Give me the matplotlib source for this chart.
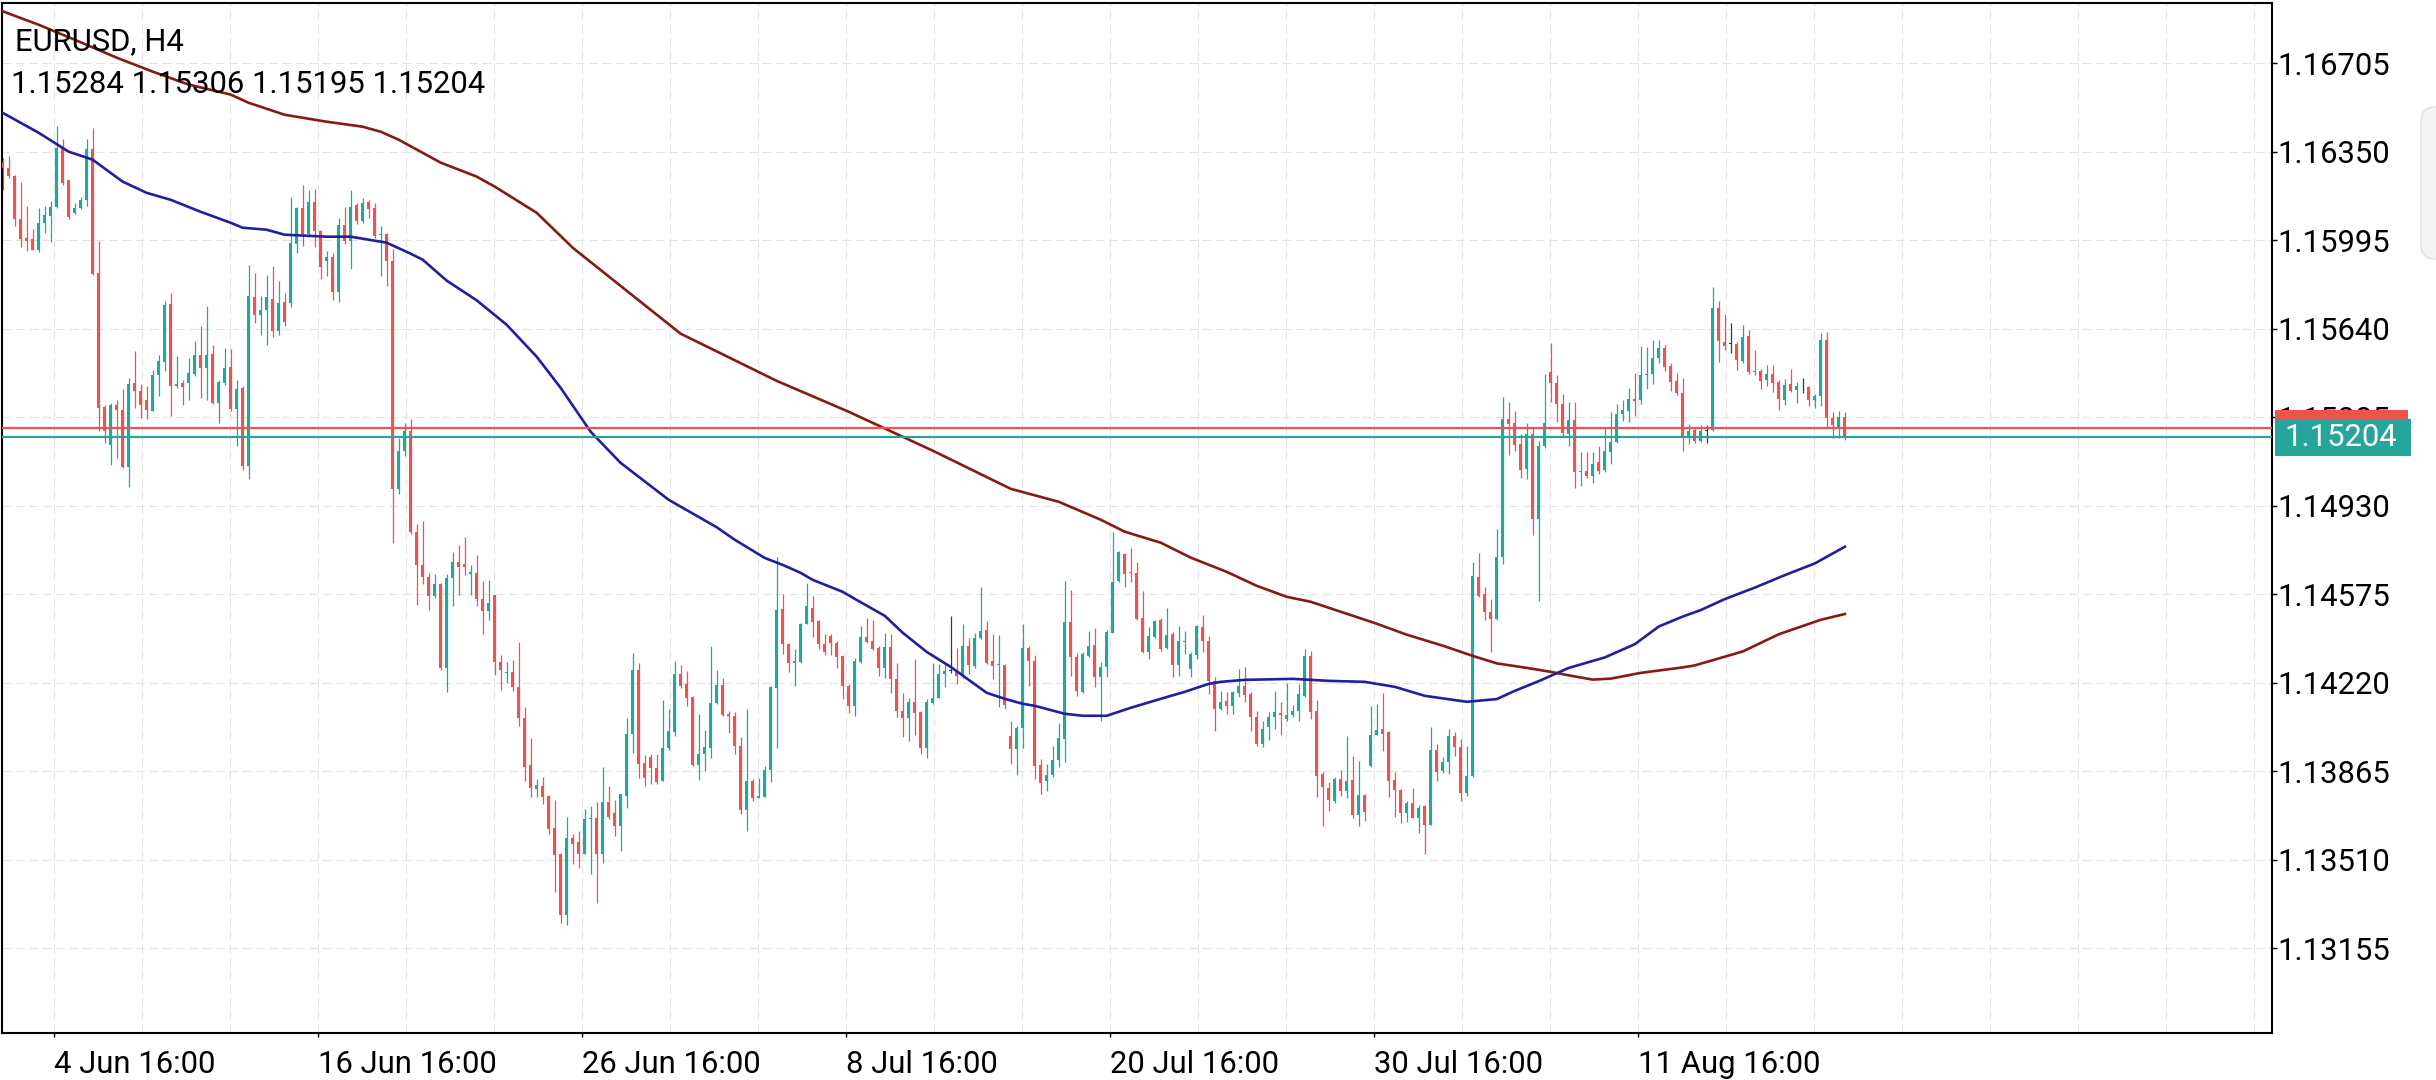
import numpy as np
import matplotlib.pyplot as plt
from matplotlib.patches import Rectangle, FancyBboxPatch
from matplotlib.transforms import blended_transform_factory, IdentityTransform

plt.rcParams['font.family'] = ['Roboto', 'DejaVu Sans']

symbol = "EURUSD, H4"
bid = 1.15204
ask = 1.15241

# H4 candles, oldest first
opens = [
    1.16308, 1.16285, 1.16254, 1.16078, 1.16004, 1.16000, 1.15957, 1.16064, 1.16091, 1.16129,
    1.16359, 1.16236, 1.16102, 1.16125, 1.16155, 1.16361, 1.15864, 1.15325, 1.15175, 1.15336,
    1.15316, 1.15086, 1.15423, 1.15392, 1.15356, 1.15309, 1.15453, 1.15507, 1.15741, 1.15409,
    1.15422, 1.15423, 1.15460, 1.15536, 1.15483, 1.15540, 1.15342, 1.15423, 1.15485, 1.15318,
    1.15402, 1.15088, 1.15768, 1.15693, 1.15717, 1.15760, 1.15629, 1.15748, 1.15744, 1.15981,
    1.16124, 1.16021, 1.16149, 1.16031, 1.15910, 1.15926, 1.15788, 1.16057, 1.15991, 1.16136,
    1.16070, 1.16149, 1.16124, 1.16015, 1.16021, 1.15912, 1.14996, 1.15151, 1.15230, 1.14824,
    1.14692, 1.14646, 1.14567, 1.14617, 1.14281, 1.14640, 1.14706, 1.14696, 1.14656, 1.14660,
    1.14557, 1.14508, 1.14573, 1.14304, 1.14261, 1.14265, 1.14205, 1.14079, 1.13890, 1.13793,
    1.13806, 1.13766, 1.13636, 1.13532, 1.13291, 1.13599, 1.13582, 1.13535, 1.13673, 1.13679,
    1.13535, 1.13743, 1.13699, 1.13646, 1.13766, 1.14016, 1.14270, 1.13900, 1.13923, 1.13877,
    1.13826, 1.13957, 1.14024, 1.14257, 1.14217, 1.14163, 1.13890, 1.13936, 1.13960, 1.14140,
    1.14211, 1.14096, 1.14087, 1.13967, 1.13709, 1.13826, 1.13759, 1.13762, 1.13869, 1.14201,
    1.14515, 1.14374, 1.14301, 1.14305, 1.14457, 1.14521, 1.14470, 1.14374, 1.14408, 1.14381,
    1.14327, 1.14207, 1.14127, 1.14305, 1.14404, 1.14388, 1.14358, 1.14278, 1.14363, 1.14234,
    1.14107, 1.14080, 1.14144, 1.14104, 1.13960, 1.14140, 1.14160, 1.14254, 1.14267, 1.14265,
    1.14247, 1.14367, 1.14287, 1.14398, 1.14430, 1.14307, 1.14290, 1.14291, 1.14006, 1.13953,
    1.14037, 1.14361, 1.14307, 1.13890, 1.13826, 1.13850, 1.13909, 1.13995, 1.14463, 1.14323,
    1.14182, 1.14329, 1.14373, 1.14242, 1.14282, 1.14419, 1.14627, 1.14737, 1.14664, 1.14660,
    1.14480, 1.14343, 1.14403, 1.14472, 1.14360, 1.14416, 1.14293, 1.14383, 1.14276, 1.14333,
    1.14443, 1.14389, 1.14229, 1.14115, 1.14146, 1.14129, 1.14178, 1.14209, 1.14176, 1.14082,
    1.13975, 1.14042, 1.14082, 1.14098, 1.14075, 1.14093, 1.14106, 1.14169, 1.14329, 1.14106,
    1.13855, 1.13799, 1.13746, 1.13836, 1.13788, 1.13829, 1.13691, 1.13771, 1.13885, 1.14012,
    1.14034, 1.14023, 1.13829, 1.13790, 1.13697, 1.13739, 1.13677, 1.13725, 1.13652, 1.13951,
    1.13868, 1.13901, 1.14007, 1.13961, 1.13777, 1.13846, 1.14645, 1.14575, 1.14506, 1.14478,
    1.14724, 1.15278, 1.15260, 1.15177, 1.15077, 1.15216, 1.14876, 1.15168, 1.15466, 1.15421,
    1.15338, 1.15219, 1.15274, 1.15064, 1.15070, 1.15050, 1.15106, 1.15073, 1.15146, 1.15186,
    1.15297, 1.15311, 1.15360, 1.15353, 1.15454, 1.15458, 1.15521, 1.15561, 1.15490, 1.15431,
    1.15383, 1.15204, 1.15233, 1.15190, 1.15231, 1.15233, 1.15725, 1.15587, 1.15580, 1.15578,
    1.15511, 1.15610, 1.15471, 1.15471, 1.15436, 1.15458, 1.15427, 1.15356, 1.15418, 1.15394,
    1.15405, 1.15407, 1.15356, 1.15369, 1.15594, 1.15280, 1.15246, 1.15284]

highs = [
    1.16325, 1.16332, 1.16258, 1.16228, 1.16131, 1.16038, 1.16125, 1.16131, 1.16151, 1.16452,
    1.16399, 1.16238, 1.16145, 1.16169, 1.16399, 1.16443, 1.15991, 1.15336, 1.15342, 1.15356,
    1.15399, 1.15443, 1.15550, 1.15420, 1.15409, 1.15476, 1.15536, 1.15750, 1.15784, 1.15532,
    1.15436, 1.15523, 1.15590, 1.15650, 1.15733, 1.15576, 1.15433, 1.15563, 1.15559, 1.15436,
    1.15409, 1.15897, 1.15864, 1.15770, 1.15857, 1.15892, 1.15833, 1.15784, 1.16169, 1.16130,
    1.16215, 1.16195, 1.16199, 1.16037, 1.15952, 1.15942, 1.16084, 1.16130, 1.16195, 1.16144,
    1.16163, 1.16155, 1.16144, 1.16051, 1.16025, 1.15958, 1.15200, 1.15260, 1.15279, 1.14858,
    1.14870, 1.14660, 1.14656, 1.14621, 1.14656, 1.14745, 1.14771, 1.14805, 1.14692, 1.14731,
    1.14627, 1.14633, 1.14573, 1.14330, 1.14304, 1.14310, 1.14383, 1.14122, 1.14000, 1.13833,
    1.13842, 1.13770, 1.13749, 1.13539, 1.13682, 1.13612, 1.13626, 1.13713, 1.13726, 1.13743,
    1.13882, 1.13806, 1.13749, 1.13776, 1.14080, 1.14341, 1.14301, 1.13931, 1.13933, 1.13933,
    1.14150, 1.14114, 1.14308, 1.14292, 1.14268, 1.14167, 1.14094, 1.14030, 1.14368, 1.14270,
    1.14238, 1.14107, 1.14104, 1.14003, 1.14114, 1.13833, 1.13837, 1.13886, 1.14207, 1.14725,
    1.14578, 1.14381, 1.14354, 1.14461, 1.14622, 1.14568, 1.14474, 1.14417, 1.14414, 1.14388,
    1.14331, 1.14214, 1.14321, 1.14448, 1.14481, 1.14474, 1.14367, 1.14421, 1.14414, 1.14301,
    1.14180, 1.14160, 1.14314, 1.14107, 1.14154, 1.14301, 1.14294, 1.14301, 1.14488, 1.14358,
    1.14457, 1.14401, 1.14421, 1.14604, 1.14470, 1.14414, 1.14412, 1.14297, 1.14069, 1.14047,
    1.14454, 1.14367, 1.14331, 1.13913, 1.13893, 1.13966, 1.14060, 1.14630, 1.14593, 1.14339,
    1.14343, 1.14427, 1.14440, 1.14302, 1.14430, 1.14824, 1.14748, 1.14740, 1.14761, 1.14704,
    1.14590, 1.14443, 1.14472, 1.14480, 1.14520, 1.14423, 1.14446, 1.14427, 1.14343, 1.14450,
    1.14494, 1.14406, 1.14242, 1.14189, 1.14182, 1.14186, 1.14276, 1.14285, 1.14182, 1.14109,
    1.14068, 1.14102, 1.14186, 1.14142, 1.14218, 1.14133, 1.14216, 1.14356, 1.14349, 1.14151,
    1.13861, 1.13822, 1.13843, 1.13871, 1.14007, 1.13926, 1.13906, 1.13774, 1.14127, 1.14137,
    1.14179, 1.14026, 1.13864, 1.13793, 1.13746, 1.13799, 1.13729, 1.13732, 1.14044, 1.13975,
    1.13924, 1.14035, 1.14023, 1.13996, 1.13968, 1.14706, 1.14742, 1.14606, 1.14557, 1.14835,
    1.15366, 1.15348, 1.15310, 1.15216, 1.15260, 1.15244, 1.15188, 1.15459, 1.15584, 1.15455,
    1.15380, 1.15348, 1.15348, 1.15144, 1.15144, 1.15144, 1.15169, 1.15240, 1.15307, 1.15337,
    1.15353, 1.15404, 1.15463, 1.15570, 1.15565, 1.15594, 1.15594, 1.15574, 1.15503, 1.15463,
    1.15444, 1.15257, 1.15240, 1.15253, 1.15253, 1.15808, 1.15752, 1.15698, 1.15664, 1.15587,
    1.15654, 1.15634, 1.15554, 1.15480, 1.15494, 1.15494, 1.15436, 1.15440, 1.15480, 1.15427,
    1.15444, 1.15410, 1.15380, 1.15624, 1.15628, 1.15307, 1.15311, 1.15306]

lows = [
    1.16198, 1.16245, 1.16051, 1.15968, 1.15951, 1.15955, 1.15947, 1.16022, 1.15987, 1.16125,
    1.16218, 1.16078, 1.16098, 1.16121, 1.16131, 1.15857, 1.15229, 1.15182, 1.15095, 1.15122,
    1.15082, 1.15005, 1.15322, 1.15282, 1.15276, 1.15309, 1.15369, 1.15469, 1.15289, 1.15403,
    1.15336, 1.15356, 1.15449, 1.15362, 1.15353, 1.15340, 1.15262, 1.15416, 1.15309, 1.15169,
    1.15075, 1.15037, 1.15663, 1.15616, 1.15576, 1.15606, 1.15615, 1.15649, 1.15728, 1.15942,
    1.15971, 1.16011, 1.15966, 1.15839, 1.15853, 1.15754, 1.15748, 1.15981, 1.15878, 1.16060,
    1.16064, 1.16084, 1.16005, 1.15853, 1.15813, 1.14779, 1.14977, 1.15131, 1.14818, 1.14534,
    1.14617, 1.14514, 1.14560, 1.14271, 1.14182, 1.14528, 1.14573, 1.14652, 1.14573, 1.14528,
    1.14415, 1.14474, 1.14251, 1.14192, 1.14221, 1.14186, 1.14047, 1.13826, 1.13762, 1.13762,
    1.13735, 1.13615, 1.13382, 1.13258, 1.13251, 1.13495, 1.13479, 1.13532, 1.13452, 1.13338,
    1.13499, 1.13673, 1.13606, 1.13546, 1.13719, 1.13940, 1.13837, 1.13806, 1.13816, 1.13816,
    1.13826, 1.13949, 1.14007, 1.14201, 1.14127, 1.13886, 1.13829, 1.13866, 1.13917, 1.14136,
    1.14087, 1.14020, 1.13933, 1.13695, 1.13626, 1.13746, 1.13757, 1.13762, 1.13824, 1.13957,
    1.14337, 1.14265, 1.14207, 1.14301, 1.14454, 1.14404, 1.14354, 1.14331, 1.14331, 1.14278,
    1.14154, 1.14100, 1.14087, 1.14301, 1.14381, 1.14350, 1.14247, 1.14238, 1.14180, 1.14083,
    1.14002, 1.13986, 1.14010, 1.13933, 1.13917, 1.14136, 1.14158, 1.14203, 1.14260, 1.14214,
    1.14241, 1.14256, 1.14281, 1.14394, 1.14297, 1.14234, 1.14123, 1.14117, 1.13893, 1.13850,
    1.13960, 1.14207, 1.13833, 1.13775, 1.13786, 1.13842, 1.13882, 1.13901, 1.14249, 1.14169,
    1.14178, 1.14325, 1.14202, 1.14068, 1.14242, 1.14419, 1.14623, 1.14603, 1.14623, 1.14472,
    1.14339, 1.14316, 1.14400, 1.14349, 1.14356, 1.14245, 1.14249, 1.14336, 1.14242, 1.14316,
    1.14343, 1.14176, 1.14028, 1.14111, 1.14095, 1.14095, 1.14162, 1.14142, 1.14028, 1.13968,
    1.13962, 1.13991, 1.14035, 1.14012, 1.14068, 1.14085, 1.14066, 1.14162, 1.14075, 1.13764,
    1.13647, 1.13707, 1.13739, 1.13767, 1.13760, 1.13677, 1.13646, 1.13666, 1.13882, 1.14009,
    1.13947, 1.13763, 1.13684, 1.13660, 1.13663, 1.13677, 1.13618, 1.13535, 1.13649, 1.13827,
    1.13860, 1.13854, 1.13926, 1.13746, 1.13767, 1.13843, 1.14564, 1.14474, 1.14342, 1.14474,
    1.14696, 1.15133, 1.15149, 1.15043, 1.15039, 1.14814, 1.14550, 1.15163, 1.15348, 1.15265,
    1.15209, 1.15168, 1.15001, 1.15008, 1.15043, 1.15022, 1.15059, 1.15066, 1.15097, 1.15182,
    1.15271, 1.15267, 1.15289, 1.15337, 1.15400, 1.15418, 1.15503, 1.15471, 1.15391, 1.15373,
    1.15150, 1.15177, 1.15182, 1.15186, 1.15180, 1.15230, 1.15507, 1.15554, 1.15541, 1.15476,
    1.15503, 1.15458, 1.15454, 1.15400, 1.15410, 1.15387, 1.15316, 1.15333, 1.15387, 1.15343,
    1.15383, 1.15329, 1.15324, 1.15329, 1.15246, 1.15200, 1.15200, 1.15195]

closes = [
    1.16285, 1.16252, 1.16080, 1.15998, 1.15991, 1.15957, 1.16064, 1.16094, 1.16129, 1.16365,
    1.16225, 1.16087, 1.16125, 1.16158, 1.16361, 1.15861, 1.15322, 1.15229, 1.15336, 1.15316,
    1.15086, 1.15420, 1.15389, 1.15336, 1.15316, 1.15456, 1.15509, 1.15737, 1.15409, 1.15420,
    1.15407, 1.15463, 1.15536, 1.15483, 1.15536, 1.15342, 1.15425, 1.15483, 1.15318, 1.15398,
    1.15088, 1.15773, 1.15693, 1.15717, 1.15768, 1.15629, 1.15744, 1.15665, 1.15985, 1.16124,
    1.16021, 1.16149, 1.16031, 1.15886, 1.15926, 1.15788, 1.16057, 1.15991, 1.16130, 1.16070,
    1.16144, 1.16120, 1.16011, 1.16021, 1.15912, 1.14996, 1.15151, 1.15230, 1.14824, 1.14692,
    1.14646, 1.14567, 1.14617, 1.14281, 1.14640, 1.14706, 1.14686, 1.14684, 1.14664, 1.14557,
    1.14508, 1.14542, 1.14304, 1.14271, 1.14265, 1.14205, 1.14079, 1.13881, 1.13797, 1.13810,
    1.13762, 1.13632, 1.13529, 1.13291, 1.13599, 1.13572, 1.13535, 1.13673, 1.13679, 1.13535,
    1.13743, 1.13682, 1.13646, 1.13773, 1.14016, 1.14270, 1.13896, 1.13837, 1.13877, 1.13824,
    1.13957, 1.14027, 1.14257, 1.14207, 1.14161, 1.13890, 1.13936, 1.13963, 1.14140, 1.14211,
    1.14091, 1.14087, 1.13967, 1.13709, 1.13826, 1.13759, 1.13766, 1.13869, 1.14203, 1.14511,
    1.14374, 1.14301, 1.14308, 1.14457, 1.14528, 1.14465, 1.14374, 1.14345, 1.14381, 1.14323,
    1.14207, 1.14127, 1.14307, 1.14404, 1.14385, 1.14354, 1.14278, 1.14363, 1.14234, 1.14107,
    1.14080, 1.14144, 1.14100, 1.13960, 1.14144, 1.14158, 1.14254, 1.14267, 1.14267, 1.14247,
    1.14367, 1.14291, 1.14401, 1.14428, 1.14301, 1.14287, 1.14294, 1.14133, 1.13953, 1.14040,
    1.14361, 1.14307, 1.13886, 1.13819, 1.13850, 1.13909, 1.13997, 1.14463, 1.14323, 1.14189,
    1.14336, 1.14369, 1.14242, 1.14285, 1.14423, 1.14623, 1.14744, 1.14657, 1.14660, 1.14476,
    1.14343, 1.14409, 1.14470, 1.14356, 1.14413, 1.14293, 1.14387, 1.14387, 1.14336, 1.14446,
    1.14389, 1.14229, 1.14115, 1.14142, 1.14129, 1.14182, 1.14209, 1.14173, 1.14082, 1.13975,
    1.14035, 1.14085, 1.14102, 1.14093, 1.14093, 1.14106, 1.14176, 1.14329, 1.14102, 1.13848,
    1.13801, 1.13749, 1.13836, 1.13788, 1.13827, 1.13691, 1.13771, 1.13702, 1.14012, 1.14030,
    1.14016, 1.13827, 1.13790, 1.13697, 1.13739, 1.13680, 1.13718, 1.13652, 1.13951, 1.13864,
    1.13901, 1.14007, 1.13961, 1.13777, 1.13846, 1.14647, 1.14567, 1.14506, 1.14478, 1.14724,
    1.15278, 1.15258, 1.15174, 1.15075, 1.15216, 1.14876, 1.15168, 1.15260, 1.15421, 1.15338,
    1.15223, 1.15274, 1.15064, 1.15070, 1.15050, 1.15098, 1.15070, 1.15150, 1.15186, 1.15300,
    1.15313, 1.15360, 1.15351, 1.15454, 1.15458, 1.15521, 1.15561, 1.15487, 1.15427, 1.15383,
    1.15204, 1.15230, 1.15190, 1.15230, 1.15231, 1.15725, 1.15591, 1.15570, 1.15580, 1.15514,
    1.15605, 1.15467, 1.15467, 1.15431, 1.15460, 1.15423, 1.15360, 1.15414, 1.15391, 1.15410,
    1.15405, 1.15356, 1.15369, 1.15594, 1.15280, 1.15253, 1.15287, 1.15204]

# moving averages, read at candle numbers
blue_idx = [0, 6, 11, 15, 20, 24, 28, 33, 38, 40, 44, 47, 54, 58, 64, 68, 70, 74, 79, 84,
            89, 93, 98, 103, 111, 119, 122, 127, 130, 133, 135, 140, 142, 147, 150, 154, 158,
            161, 164, 167, 170, 172, 177, 180, 184, 188, 193, 197, 201, 203, 207, 215, 221,
            227, 232, 237, 244, 249, 252, 256, 261, 267, 272, 276, 280, 283, 287, 292, 297,
            302, 307]
blue_ma = [1.16506, 1.16426, 1.16350, 1.16318, 1.16230, 1.16185, 1.16157, 1.16109, 1.16065,
           1.16045, 1.16037, 1.16017, 1.16009, 1.16009, 1.15985, 1.15941, 1.15917, 1.15833,
           1.15754, 1.15656, 1.15528, 1.15403, 1.15227, 1.15102, 1.14954, 1.14844, 1.14794,
           1.14721, 1.14693, 1.14661, 1.14633, 1.14585, 1.14557, 1.14489, 1.14421, 1.14344,
           1.14284, 1.14232, 1.14180, 1.14156, 1.14136, 1.14128, 1.14096, 1.14088, 1.14088,
           1.14120, 1.14156, 1.14184, 1.14216, 1.14224, 1.14232, 1.14236, 1.14228, 1.14224,
           1.14204, 1.14168, 1.14144, 1.14155, 1.14188, 1.14227, 1.14280, 1.14322, 1.14375,
           1.14446, 1.14486, 1.14512, 1.14556, 1.14602, 1.14652, 1.14699, 1.14766]

red_idx = [0, 6, 12, 19, 25, 31, 38, 41, 47, 54, 60, 63, 66, 73, 79, 82, 89, 95, 100, 113,
           129, 141, 155, 168, 176, 183, 187, 193, 198, 204, 209, 214, 218, 221, 229, 234,
           240, 245, 249, 254, 258, 261, 265, 268, 273, 280, 282, 290, 296, 303, 307]
red_ma = [1.16913, 1.16859, 1.16799, 1.16727, 1.16671, 1.16619, 1.16579, 1.16546, 1.16498,
          1.16470, 1.16450, 1.16430, 1.16398, 1.16306, 1.16250, 1.16210, 1.16105, 1.15965,
          1.15869, 1.15620, 1.15431, 1.15307, 1.15151, 1.14998, 1.14946, 1.14874, 1.14826,
          1.14782, 1.14722, 1.14665, 1.14609, 1.14565, 1.14545, 1.14521, 1.14457, 1.14413,
          1.14369, 1.14328, 1.14298, 1.14280, 1.14264, 1.14250, 1.14233, 1.14237, 1.14260,
          1.14282, 1.14290, 1.14346, 1.14415, 1.14473, 1.14496]

price_ticks = [1.13155, 1.13510, 1.13865, 1.14220, 1.14575, 1.14930,
               1.15285, 1.15640, 1.15995, 1.16350, 1.16705]
time_ticks = [8.5, 52.5, 96.5, 140.5, 184.5, 228.5, 272.5]
time_labels = ["4 Jun 16:00", "16 Jun 16:00", "26 Jun 16:00", "8 Jul 16:00",
               "20 Jul 16:00", "30 Jul 16:00", "11 Aug 16:00"]

up_col = "#26a69a"
down_col = "#ef5350"
grid_col = "#e3e3e3"
fs = 22.3

W, H = 2436, 1080
fig = plt.figure(figsize=(W / 100, H / 100), dpi=100)
fig.patch.set_facecolor("white")
ax = fig.add_axes([1.5 / W, 1 - 1033 / H, (2272 - 1.5) / W, (1033 - 2.5) / H])

o = np.array(opens)
h = np.array(highs)
l = np.array(lows)
c = np.array(closes)
x = np.arange(len(c))
cols = np.where(c > o, up_col, np.where(c < o, down_col, "#3a3a3a"))

# grid
for v in price_ticks:
    ax.axhline(v, color=grid_col, lw=0.8, ls=(0, (8, 4)), zorder=0)
for gx in np.arange(8.5, 378, 44 / 3):
    ax.axvline(gx, color=grid_col, lw=0.8, ls=(0, (8, 4)), zorder=0)

# candles
ax.vlines(x, l, h, colors=cols, lw=0.9, zorder=2)
body = np.maximum(np.abs(c - o), 0.00003)
ax.bar(x, body, bottom=np.minimum(o, c), width=0.5, color=cols, lw=0, zorder=3)

# moving averages
ax.plot(red_idx, red_ma, color="#861a14", lw=1.9, zorder=4, solid_joinstyle="round")
ax.plot(blue_idx, blue_ma, color="#1f1fa0", lw=1.9, zorder=4, solid_joinstyle="round")

# bid / ask lines
ax.axhline(ask, color=down_col, lw=1.6, zorder=5)
ax.axhline(bid, color=up_col, lw=1.6, zorder=5)

ax.set_xlim(-0.17, 378.17)
ax.set_ylim(1.12816, 1.16948)

ax.set_xticks(time_ticks)
ax.set_xticklabels(time_labels, ha="left", fontsize=fs)
ax.tick_params(axis="x", length=3, width=1, pad=9, colors="black")
ax.yaxis.tick_right()
ax.set_yticks(price_ticks)
ax.set_yticklabels([f"{v:.5f}" for v in price_ticks], fontsize=fs)
ax.tick_params(axis="y", length=3.6, width=1, pad=0.5, colors="black")
for s in ax.spines.values():
    s.set_linewidth(1.5)
    s.set_color("black")

# header
fig.text(15 / W, 1 - 50 / H, symbol, fontsize=fs, va="baseline")
ohlc = " ".join(f"{v:.5f}" for v in (opens[-1], highs[-1], lows[-1], closes[-1]))
fig.text(11 / W, 1 - 93 / H, ohlc, fontsize=fs, va="baseline")

# price labels on the right scale (they cover the 1.15285 tick label, as in the app)
tr = blended_transform_factory(fig.transFigure, ax.transData)
box_h = (1.16948 - 1.12816) / 1030.5 * 37
fig.add_artist(Rectangle((2275 / W, ask - box_h / 2), 133 / W, box_h,
                         transform=tr, color=down_col, lw=0))
fig.add_artist(Rectangle((2275 / W, bid - box_h / 2), 136 / W, box_h,
                         transform=tr, color=up_col, lw=0))
fig.text(2284 / W, bid, f"{bid:.5f}", transform=tr, color="white",
         fontsize=fs, va="center")

# side panel stub at the right edge
fig.add_artist(FancyBboxPatch((2421, H - 259), 40, 152,
                              boxstyle="round,pad=0,rounding_size=14",
                              transform=IdentityTransform(),
                              fc="#f4f4f4", ec="#e0e0e0", lw=1))

fig.savefig("out.png", dpi=100)
